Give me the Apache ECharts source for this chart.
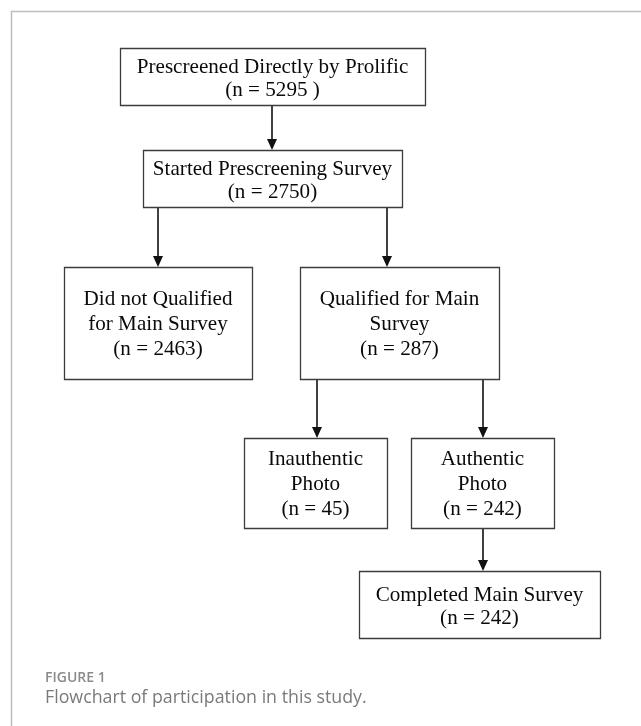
<!DOCTYPE html>
<html>
<head>
<meta charset="utf-8">
<script src="https://cdn.jsdelivr.net/npm/echarts@6/dist/echarts.min.js"></script>
<style>
html,body{margin:0;padding:0;background:#fff;}
#chart{width:641px;height:726px;}
</style>
</head>
<body>
<div id="chart"></div>
<script>
// ---- data ----
const stepNames = [
  ["Prescreened Directly by Prolific"],
  ["Started Prescreening Survey"],
  ["Did not Qualified", "for Main Survey"],
  ["Qualified for Main", "Survey"],
  ["Inauthentic", "Photo"],
  ["Authentic", "Photo"],
  ["Completed Main Survey"]
];
const stepCounts = [5295, 2750, 2463, 287, 45, 242, 242];
const countLabels = ["(n = 5295 )", "(n = 2750)", "(n = 2463)", "(n = 287)", "(n = 45)", "(n = 242)", "(n = 242)"];
// flow links: [from, to]
const links = [[0, 1], [1, 2], [1, 3], [3, 4], [3, 5], [5, 6]];
const figureLabel = "FIGURE 1";
const captionText = "Flowchart of participation in this study.";

// ---- layout (page units on hidden axes) ----
const boxLayout = [
  [120, 48, 425, 105],
  [143, 150, 402, 207],
  [64, 267, 252, 379],
  [300, 267, 499, 379],
  [244, 438, 387, 528],
  [411, 438, 554, 528],
  [359, 571, 600, 638]
];
const linkX = [272, 158, 387, 317, 483, 483];

const chart = echarts.init(document.getElementById('chart'), null, {renderer: 'canvas'});

function boxItem(params, api) {
  const i = params.dataIndex;
  const r = boxLayout[i];
  const p0 = api.coord([r[0], r[1]]);
  const p1 = api.coord([r[2], r[3]]);
  const lines = stepNames[i].concat([countLabels[i]]);
  const three = lines.length === 3;
  return {
    type: 'group',
    children: [
      {type: 'rect', shape: {x: Math.round(p0[0]) + 0.5, y: Math.round(p0[1]) + 0.5, width: Math.round(p1[0] - p0[0]), height: Math.round(p1[1] - p0[1])},
        style: {fill: '#fff', stroke: '#3c3c3c', lineWidth: 1.3}},
      {type: 'text', x: (p0[0] + p1[0]) / 2, y: (p0[1] + p1[1]) / 2 + (three ? 1 : 2),
        scaleX: 0.96,
        style: {text: lines.join('\n'), fontFamily: '"Liberation Serif", "Times New Roman", serif', fontSize: 22,
          fill: '#0a0a0a', align: 'center', verticalAlign: 'middle', lineHeight: three ? 25 : 23}}
    ]
  };
}

function linkItem(params, api) {
  const i = params.dataIndex;
  const from = boxLayout[links[i][0]];
  const to = boxLayout[links[i][1]];
  const x = linkX[i];
  const a = api.coord([x, from[3]]);
  const b = api.coord([x, to[1]]);
  const headL = 11, headW = 5;
  return {
    type: 'group',
    children: [
      {type: 'line', shape: {x1: a[0], y1: a[1], x2: b[0], y2: b[1] - headL + 1}, style: {stroke: '#111', lineWidth: 1.6}},
      {type: 'polygon', shape: {points: [[b[0] - headW, b[1] - headL], [b[0] + headW, b[1] - headL], [b[0], b[1]]]}, style: {fill: '#111'}}
    ]
  };
}

const option = {
  animation: false,
  grid: {left: 0, right: 0, top: 0, bottom: 0},
  xAxis: {type: 'value', min: 0, max: 641, show: false},
  yAxis: {type: 'value', min: 0, max: 726, inverse: true, show: false},
  graphic: [
    {type: 'polyline', shape: {points: [[11.5, 726], [11.5, 11.5], [641, 11.5]]}, style: {stroke: '#bdbdbd', lineWidth: 1.5, fill: null}},
    {type: 'text', left: 45, top: 671, style: {text: figureLabel, fontFamily: '"Open Sans", sans-serif', fontSize: 14, fontWeight: 600, fill: '#8a8a8a'}},
    {type: 'text', left: 45, top: 689, style: {text: captionText, fontFamily: '"Open Sans", sans-serif', fontSize: 17.8, fill: '#7a7a7a'}}
  ],
  series: [
    {type: 'custom', coordinateSystem: 'cartesian2d', renderItem: linkItem, data: links.map((l, i) => [i, stepCounts[l[1]]]), silent: true, z: 1},
    {type: 'custom', coordinateSystem: 'cartesian2d', renderItem: boxItem, data: stepCounts.map((c, i) => [i, c]), silent: true, z: 2}
  ]
};
chart.setOption(option);
</script>
</body>
</html>
